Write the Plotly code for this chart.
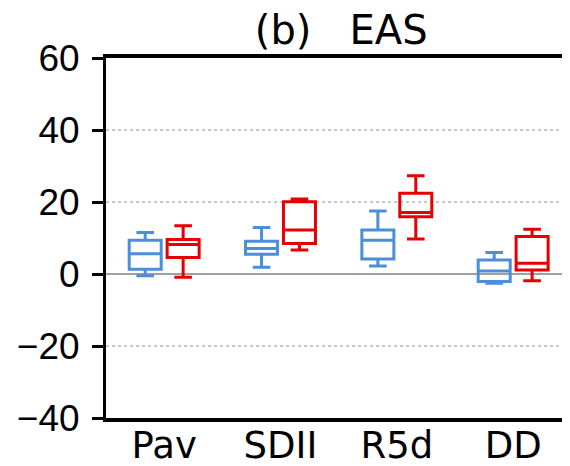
import plotly.graph_objects as go

categories = ["Pav", "SDII", "R5d", "DD"]

# blue series
blue_low = [-0.5, 1.9, 2.2, -2.6]
blue_q1 = [1.3, 5.5, 4.2, -2.1]
blue_med = [5.6, 7.1, 9.4, 0.8]
blue_q3 = [9.4, 9.1, 12.2, 3.9]
blue_high = [11.5, 12.9, 17.5, 6.0]

# red series
red_low = [-0.9, 6.7, 9.7, -1.9]
red_q1 = [4.6, 8.5, 15.9, 1.1]
red_med = [8.2, 12.2, 17.1, 3.0]
red_q3 = [9.6, 20.1, 22.4, 10.4]
red_high = [13.4, 20.8, 27.3, 12.4]

y_ticks = [-40, -20, 0, 20, 40, 60]

BLUE = "#4a8fd8"
RED = "#e60000"

fig = go.Figure()
for name, color, lo, q1, med, q3, hi in [
    ("blue", BLUE, blue_low, blue_q1, blue_med, blue_q3, blue_high),
    ("red", RED, red_low, red_q1, red_med, red_q3, red_high),
]:
    fig.add_trace(go.Box(
        name=name, x=categories, lowerfence=lo, q1=q1, median=med, q3=q3,
        upperfence=hi, boxpoints=False, fillcolor="rgba(0,0,0,0)",
        line=dict(color=color, width=3), whiskerwidth=0.55,
        showlegend=False,
    ))

# page body has an 8px margin, so the figure is 8px smaller than the window
fig.update_layout(
    width=562, height=458,
    margin=dict(l=98, r=1, t=50, b=48),
    paper_bgcolor="white", plot_bgcolor="white",
    boxmode="group", boxgap=0.348, boxgroupgap=0.156,
    title=dict(text="(b)\u00a0\u00a0\u00a0EAS", x=0.508, xref="paper", xanchor="center",
               y=1 - 22 / 458, yref="container", yanchor="middle",
               font=dict(family="DejaVu Sans", size=40, color="black")),
)
fig.update_xaxes(
    type="category", categoryorder="array", categoryarray=categories,
    range=[-0.5, 3.48], showline=True, linewidth=4, linecolor="black",
    mirror=True, ticks="", showgrid=False, automargin=False,
    tickfont=dict(family="DejaVu Sans", size=37, color="black"),
    ticklabelstandoff=-8,
)
fig.update_yaxes(
    range=[-40, 60], tickvals=y_ticks, showline=True, linewidth=3,
    linecolor="black", ticks="outside", ticklen=11, tickwidth=2.5,
    tickcolor="black", showgrid=True, gridcolor="#c8c8c8", griddash="dot",
    gridwidth=1.5, zeroline=True, zerolinecolor="#a0a0a0", zerolinewidth=2,
    tickfont=dict(family="Liberation Sans", size=37, color="black"),
    ticklabelstandoff=5, automargin=False,
)
# faint right frame edge
fig.add_shape(type="line", xref="paper", yref="paper", x0=1, x1=1, y0=0, y1=1,
              line=dict(color="#d0d0d0", width=1))

fig.write_html("out.html")
